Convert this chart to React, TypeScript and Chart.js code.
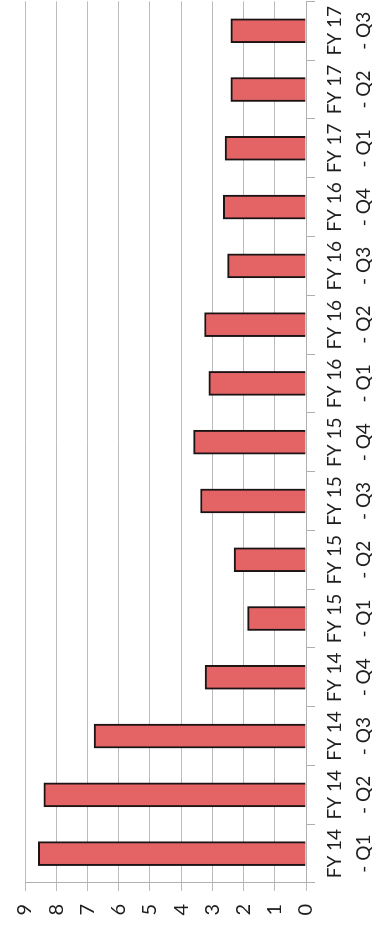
import React, { useEffect, useRef } from "react";
import { Chart, registerables } from "chart.js";

Chart.register(...registerables);

const categories = [
  "FY 14 - Q1", "FY 14 - Q2", "FY 14 - Q3", "FY 14 - Q4",
  "FY 15 - Q1", "FY 15 - Q2", "FY 15 - Q3", "FY 15 - Q4",
  "FY 16 - Q1", "FY 16 - Q2", "FY 16 - Q3", "FY 16 - Q4",
  "FY 17 - Q1", "FY 17 - Q2", "FY 17 - Q3",
];
const values = [8.57, 8.4, 6.79, 3.23, 1.87, 2.3, 3.38, 3.6, 3.11, 3.25, 2.51, 2.65, 2.59, 2.41, 2.41];
const valueTicks = [0, 1, 2, 3, 4, 5, 6, 7, 8, 9];

const W = 927;
const H = 372;

export default function App() {
  const ref = useRef<HTMLCanvasElement | null>(null);
  useEffect(() => {
    if (!ref.current) return;
    const chart = new Chart(ref.current, {
      type: "bar",
      data: {
        labels: categories,
        datasets: [
          {
            data: values,
            backgroundColor: "rgb(228,100,102)",
            borderColor: "#1c1414",
            borderWidth: 2,
            barThickness: 24,
          },
        ],
      },
      options: {
        animation: false,
        responsive: false,
        devicePixelRatio: 1,
        layout: { padding: { top: 25, left: 0, right: 0, bottom: 0 } },
        plugins: { legend: { display: false }, tooltip: { enabled: false } },
        scales: {
          x: {
            offset: true,
            grid: {
              display: true,
              drawOnChartArea: false,
              drawTicks: true,
              tickLength: 9,
              color: "#b0b0b0",
              offset: true,
            },
            border: { display: true, color: "#b0b0b0" },
            ticks: {
              autoSkip: false,
              maxRotation: 0,
              minRotation: 0,
              padding: 6,
              color: "#1e1e1e",
              font: { family: "Lato", size: 19, lineHeight: 1.5 },
              callback: (_v: any, i: number) => {
                const s = categories[i];
                const k = s.indexOf(" - ");
                return [s.slice(0, k), s.slice(k + 1)];
              },
            },
            afterFit: (s: any) => {
              s.height = 66;
            },
          },
          y: {
            min: 0,
            max: 9,
            afterBuildTicks: (s: any) => {
              s.ticks = valueTicks.map((v) => ({ value: v }));
            },
            grid: { color: "#bcbcbc", lineWidth: 1, drawTicks: true, tickLength: 8 },
            border: { display: true, color: "#b0b0b0" },
            ticks: {
              padding: 13,
              color: "#1e1e1e",
              font: { family: "Lato", size: 20 },
            },
            afterFit: (s: any) => {
              s.width = 44;
            },
          },
        },
      },
    });
    return () => chart.destroy();
  }, []);

  return (
    <div
      style={{
        position: "fixed",
        left: 0,
        top: 0,
        width: H,
        height: W,
        overflow: "hidden",
        background: "#fff",
      }}
    >
      <div
        style={{
          position: "absolute",
          left: 0,
          top: 0,
          width: W,
          height: H,
          transformOrigin: "0 0",
          transform: `translateY(${W}px) rotate(-90deg)`,
        }}
      >
        <canvas ref={ref} width={W} height={H} style={{ width: W, height: H, display: "block" }} />
      </div>
    </div>
  );
}
